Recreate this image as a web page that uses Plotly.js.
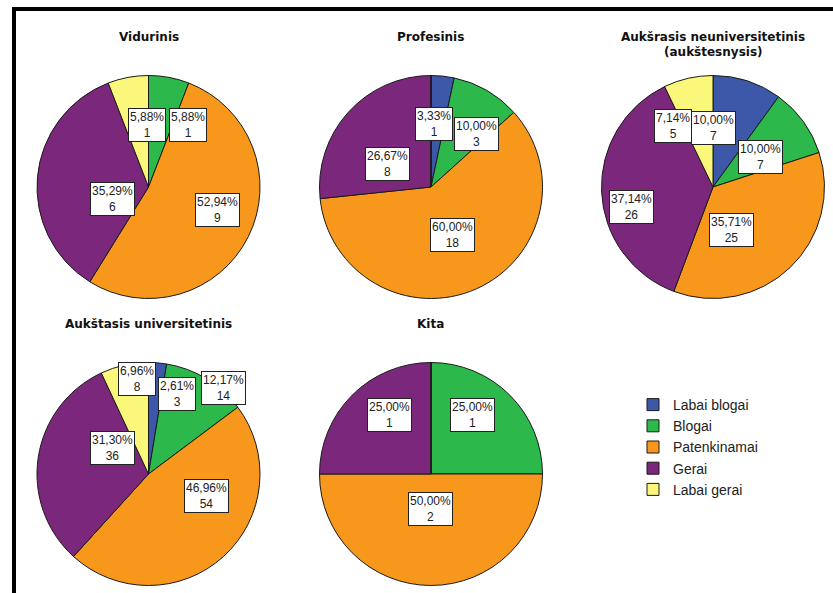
<!DOCTYPE html>
<html>
<head>
<meta charset="utf-8">
<script src="https://cdn.plot.ly/plotly-3.0.1.min.js"></script>
<style>html,body{margin:0;padding:0;background:#fff;}#chart{width:833px;height:593px;}</style>
</head>
<body>
<div id="chart"></div>
<script>
// ---- data ----
const categories = ['Labai blogai', 'Blogai', 'Patenkinamai', 'Gerai', 'Labai gerai'];
const titles = ['Vidurinis', 'Profesinis', 'Aukšrasis neuniversitetinis<br>(aukštesnysis)', 'Aukštasis universitetinis', 'Kita'];
const vidurinis = [0, 1, 9, 6, 1];
const profesinis = [1, 3, 18, 8, 0];
const auksrasis = [7, 7, 25, 26, 5];
const aukstasis = [3, 14, 54, 36, 8];
const kita = [0, 1, 2, 1, 0];
const series = [vidurinis, profesinis, auksrasis, aukstasis, kita];

// ---- styling / layout ----
const W = 833, H = 593;
const colors = ['#3d58a8', '#2db84b', '#f7981d', '#7b287c', '#fbf77b'];
const centers = [[148.5, 187], [431, 187], [713, 187], [148.5, 474], [431, 474]];
const titleY = [[37], [37], [37, 52], [324], [324]];
const R = 111.5;
const BOX_H = 33;

function textWidth(s) {
  let w = 0;
  for (const c of s) w += (c === ',' ? 3.34 : c === '%' ? 10.67 : 6.67);
  return w + 6;
}

const data = [];
const annotations = [];
// trace with every category first so the legend keeps category order
const order = [2, 0, 1, 3, 4];
order.forEach(function (i) {
  const vals = series[i];
  const [cx, cy] = centers[i];
  data.push({
    type: 'pie',
    labels: categories,
    values: vals,
    sort: false,
    direction: 'clockwise',
    rotation: 0,
    textinfo: 'none',
    hoverinfo: 'label+value+percent',
    marker: {colors: colors, line: {color: '#1a1a1a', width: 1}},
    domain: {x: [(cx - R) / W, (cx + R) / W], y: [1 - (cy + R) / H, 1 - (cy - R) / H]},
    name: titles[i]
  });
});

series.forEach(function (vals, i) {
  const [cx, cy] = centers[i];
  const total = vals.reduce((a, b) => a + b, 0);
  let cum = 0;
  const labs = [];
  vals.forEach(function (v, k) {
    const start = cum; cum += v;
    if (v === 0) return;
    const pct = v / total * 100;
    const mid = (start + v / 2) / total * 2 * Math.PI;
    const rf = pct >= 40 ? 0.47 : (pct >= 20 ? 0.53 : 0.72);
    const d = rf * R;
    const pctTxt = pct.toFixed(2).replace('.', ',') + '%';
    labs.push({px: cx + d * Math.sin(mid), py: cy - d * Math.cos(mid), w: textWidth(pctTxt), mid: mid,
      text: pctTxt + '<br>' + v});
  });
  // simple horizontal collision resolution
  for (let it = 0; it < 20; it++) {
    for (let a = 0; a < labs.length; a++) {
      for (let b = a + 1; b < labs.length; b++) {
        const A = labs[a], B = labs[b];
        const ox = (A.w + B.w) / 2 - Math.abs(A.px - B.px);
        const oy = BOX_H - Math.abs(A.py - B.py);
        if (ox > 0 && oy > 0) {
          let s = Math.sign(B.px - A.px);
          if (s === 0) s = Math.sin(B.mid) > Math.sin(A.mid) ? 1 : -1;
          A.px -= s * ox / 2; B.px += s * ox / 2;
        }
      }
    }
  }
  labs.reverse().forEach(function (L) {
    annotations.push({
      x: L.px / W, y: 1 - L.py / H,
      xref: 'paper', yref: 'paper', showarrow: false,
      text: L.text,
      font: {family: 'Liberation Sans, Arial, sans-serif', size: 12, color: '#222'},
      bgcolor: '#ffffff', bordercolor: '#222', borderwidth: 1, borderpad: 1,
      align: 'center'
    });
  });
  const lines = titles[i].split('<br>');
  lines.forEach(function (t, j) {
    annotations.push({
      x: cx / W, y: 1 - titleY[i][j] / H, xref: 'paper', yref: 'paper',
      showarrow: false, text: '<b>' + t + '</b>',
      font: {family: 'DejaVu Sans, Verdana, sans-serif', size: 12, color: '#111'},
      xanchor: 'center', yanchor: 'middle'
    });
  });
});

const layout = {
  width: W, height: H,
  margin: {l: 0, r: 0, t: 0, b: 0},
  paper_bgcolor: '#ffffff',
  showlegend: true,
  legend: {
    x: 633 / W, y: 1 - 389 / H, xanchor: 'left', yanchor: 'top',
    font: {family: 'Liberation Sans, Arial, sans-serif', size: 14, color: '#222'},
    bgcolor: 'rgba(0,0,0,0)', traceorder: 'normal'
  },
  annotations: annotations,
  shapes: [
    {type: 'line', xref: 'paper', yref: 'paper', x0: 12 / W, x1: 1, y0: 1 - 9 / H, y1: 1 - 9 / H, line: {color: '#000', width: 4}},
    {type: 'line', xref: 'paper', yref: 'paper', x0: 14 / W, x1: 14 / W, y0: 1 - 7 / H, y1: 0, line: {color: '#000', width: 4}}
  ]
};

Plotly.newPlot('chart', data, layout, {displayModeBar: false, staticPlot: true});
</script>
</body>
</html>
